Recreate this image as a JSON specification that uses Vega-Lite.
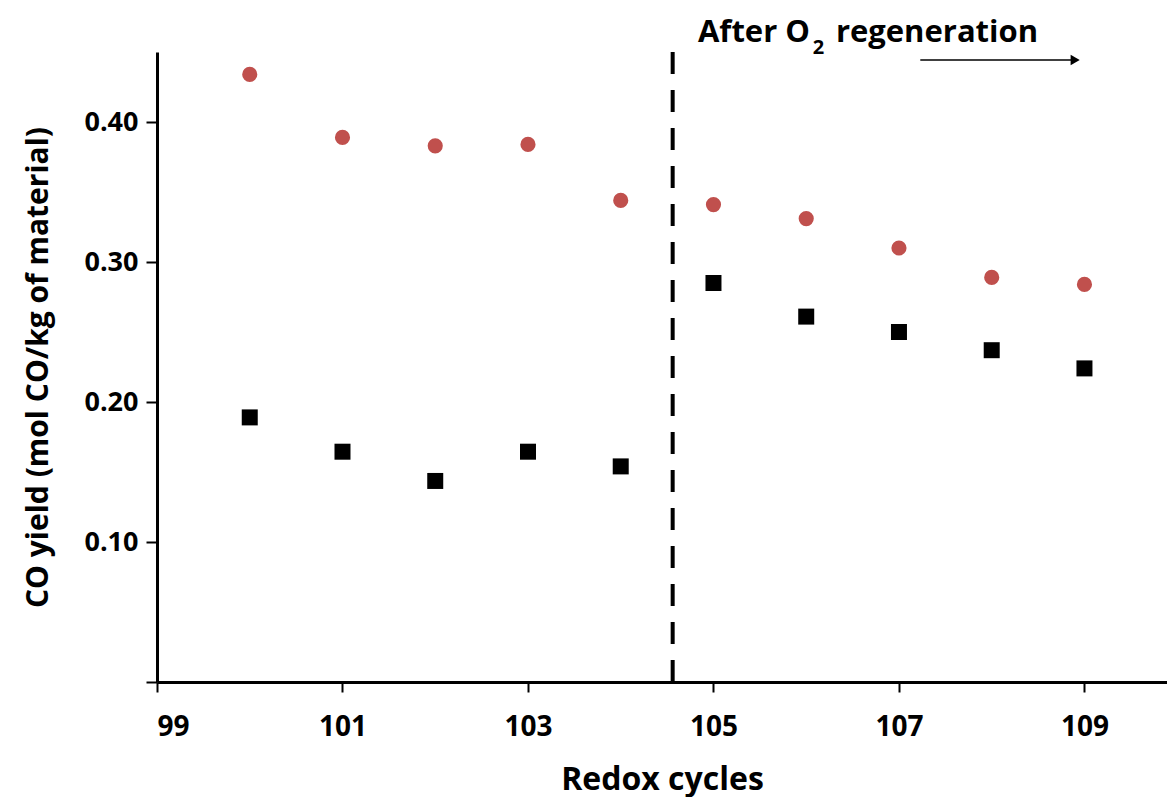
{
  "$schema": "https://vega.github.io/schema/vega-lite/v6.json",
  "width": 1010,
  "height": 630,
  "autosize": {"type": "none"},
  "padding": {"left": 157, "top": 52, "right": 0, "bottom": 115},
  "background": "white",
  "config": {
    "view": {"stroke": null},
    "font": "Open Sans",
    "axis": {
      "domainColor": "black",
      "domainWidth": 3,
      "tickColor": "black",
      "tickWidth": 2,
      "grid": false,
      "labelFont": "Open Sans",
      "labelFontWeight": "bold",
      "labelColor": "black",
      "titleFont": "Open Sans",
      "titleFontWeight": "bold",
      "titleColor": "black"
    }
  },
  "datasets": {
    "points": [
      {"cycle": 100, "series": "red", "yield": 0.434},
      {"cycle": 101, "series": "red", "yield": 0.389},
      {"cycle": 102, "series": "red", "yield": 0.383},
      {"cycle": 103, "series": "red", "yield": 0.384},
      {"cycle": 104, "series": "red", "yield": 0.344},
      {"cycle": 105, "series": "red", "yield": 0.341},
      {"cycle": 106, "series": "red", "yield": 0.331},
      {"cycle": 107, "series": "red", "yield": 0.310},
      {"cycle": 108, "series": "red", "yield": 0.289},
      {"cycle": 109, "series": "red", "yield": 0.284},
      {"cycle": 100, "series": "black", "yield": 0.189},
      {"cycle": 101, "series": "black", "yield": 0.1645},
      {"cycle": 102, "series": "black", "yield": 0.1436},
      {"cycle": 103, "series": "black", "yield": 0.1645},
      {"cycle": 104, "series": "black", "yield": 0.154},
      {"cycle": 105, "series": "black", "yield": 0.285},
      {"cycle": 106, "series": "black", "yield": 0.261},
      {"cycle": 107, "series": "black", "yield": 0.250},
      {"cycle": 108, "series": "black", "yield": 0.237},
      {"cycle": 109, "series": "black", "yield": 0.224}
    ]
  },
  "layer": [
    {
      "data": {"name": "points"},
      "transform": [{"filter": "datum.series == 'black'"}],
      "mark": {"type": "square", "size": 256, "color": "black", "opacity": 1},
      "encoding": {
        "x": {
          "field": "cycle", "type": "quantitative",
          "scale": {"domain": [99, 109.89], "nice": false, "zero": false},
          "axis": {
            "values": [99, 101, 103, 105, 107, 109],
            "format": "d",
            "title": "Redox cycles",
            "titleFontSize": 32,
            "titlePadding": 23,
            "labelFontSize": 28,
            "labelPadding": 21,
            "tickSize": 10
          }
        },
        "y": {
          "field": "yield", "type": "quantitative",
          "scale": {"domain": [0, 0.45], "nice": false},
          "axis": {
            "values": [0, 0.1, 0.2, 0.3, 0.4],
            "labelExpr": "datum.value == 0 ? '' : format(datum.value, '.2f')",
            "title": "CO yield (mol CO/kg of material)",
            "titleFontSize": 30,
            "titlePadding": 30,
            "labelFontSize": 27,
            "labelPadding": 8,
            "tickSize": 11
          }
        }
      }
    },
    {
      "data": {"name": "points"},
      "transform": [{"filter": "datum.series == 'red'"}],
      "mark": {"type": "circle", "size": 230, "color": "#C0504D", "opacity": 1},
      "encoding": {
        "x": {"field": "cycle", "type": "quantitative"},
        "y": {"field": "yield", "type": "quantitative"}
      }
    },
    {
      "data": {"values": [{}]},
      "mark": {"type": "rule", "color": "black", "strokeWidth": 4, "strokeDash": [22, 16]},
      "encoding": {
        "x": {"datum": 104.56},
        "y": {"datum": 0},
        "y2": {"datum": 0.461}
      }
    },
    {
      "data": {"values": [{}]},
      "mark": {"type": "rule", "color": "black", "strokeWidth": 1.5},
      "encoding": {
        "x": {"datum": 107.23},
        "x2": {"datum": 108.88},
        "y": {"datum": 0.4443}
      }
    },
    {
      "data": {"values": [{}]},
      "mark": {"type": "point", "shape": "triangle-right", "filled": true, "color": "black", "size": 110, "opacity": 1},
      "encoding": {
        "x": {"datum": 108.9},
        "y": {"datum": 0.4443}
      }
    },
    {
      "data": {"values": [{}]},
      "mark": {"type": "text", "text": "After O", "font": "Open Sans", "fontWeight": "bold", "fontSize": 31, "align": "left", "baseline": "alphabetic", "color": "black"},
      "encoding": {
        "x": {"datum": 104.833},
        "y": {"datum": 0.4571}
      }
    },
    {
      "data": {"values": [{}]},
      "mark": {"type": "text", "text": "2", "font": "Open Sans", "fontWeight": "bold", "fontSize": 20, "align": "left", "baseline": "alphabetic", "color": "black"},
      "encoding": {
        "x": {"datum": 106.07},
        "y": {"datum": 0.4486}
      }
    },
    {
      "data": {"values": [{}]},
      "mark": {"type": "text", "text": "regeneration", "font": "Open Sans", "fontWeight": "bold", "fontSize": 31, "align": "left", "baseline": "alphabetic", "color": "black"},
      "encoding": {
        "x": {"datum": 106.32},
        "y": {"datum": 0.4571}
      }
    }
  ]
}
